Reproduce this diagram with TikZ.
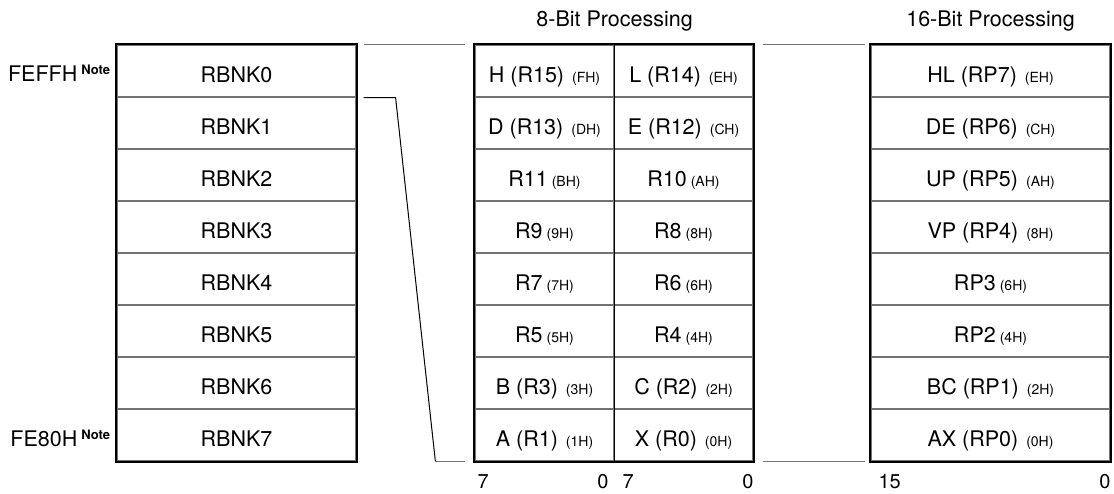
\documentclass[tikz,border=0pt]{standalone}
\usepackage{fontspec}
\setmainfont{TeX Gyre Heros}
\newcommand{\ad}[2][4pt]{\hspace{#1}{\fontsize{14}{16}\selectfont #2}}
\tikzset{
  cell/.style={draw=black!55,line width=1.2pt,inner sep=0pt,minimum height=52pt,
    text height=23pt,text depth=0.5pt,font=\fontsize{21.5}{25}\selectfont},
  wide/.style={cell,minimum width=239pt},
  half/.style={cell,minimum width=139pt},
  frame/.style={line width=2pt},
  link/.style={draw=black!55,line width=1.2pt},
  lbl/.style={inner sep=0pt,font=\fontsize{21.5}{25}\selectfont},
  bit/.style={inner sep=0pt,font=\fontsize{20}{24}\selectfont}
}
\begin{document}
\begin{tikzpicture}[x=1pt,y=-1pt]
  \useasboundingbox (0,0) rectangle (1114,494);

  % register banks
  \foreach \i in {0,...,7}
    \node[wide] (bk\i) at (236.5,{71+52*\i}) {RBNK\i};
  \draw[frame] (bk0.north west) rectangle (bk7.south east);

  % 8-bit registers
  \foreach \i/\hi/\lo in {0/{H (R15)\ad[8pt]{(FH)}}/{L (R14)\ad[8pt]{(EH)}},
                          1/{D (R13)\ad[8pt]{(DH)}}/{E (R12)\ad[8pt]{(CH)}},
                          2/{R11\ad{(BH)}}/{R10\ad{(AH)}},
                          3/{R9\ad{(9H)}}/{R8\ad{(8H)}},
                          4/{R7\ad{(7H)}}/{R6\ad{(6H)}},
                          5/{R5\ad{(5H)}}/{R4\ad{(4H)}},
                          6/{B (R3)\ad[8pt]{(3H)}}/{C (R2)\ad[8pt]{(2H)}},
                          7/{A (R1)\ad[8pt]{(1H)}}/{X (R0)\ad[8pt]{(0H)}}} {
    \node[half] (hb\i) at (544.5,{71+52*\i}) {\hi};
    \node[half] (lb\i) at (683.5,{71+52*\i}) {\lo};
  }
  \draw[line width=1pt] (hb0.north east) -- (hb7.south east);
  \draw[frame] (hb0.north west) rectangle (lb7.south east);

  % 16-bit register pairs
  \foreach \i/\pr in {0/{HL (RP7)\ad[8pt]{(EH)}}, 1/{DE (RP6)\ad[8pt]{(CH)}},
                      2/{UP (RP5)\ad[8pt]{(AH)}}, 3/{VP (RP4)\ad[8pt]{(8H)}},
                      4/{RP3\ad{(6H)}}, 5/{RP2\ad{(4H)}},
                      6/{BC (RP1)\ad[8pt]{(2H)}}, 7/{AX (RP0)\ad[8pt]{(0H)}}}
    \node[wide] (rp\i) at (990.5,{71+52*\i}) {\pr};
  \draw[frame] (rp0.north west) rectangle (rp7.south east);

  % headings
  \node[lbl,anchor=base] (head8) at ([yshift=18pt]hb0.north east) {8-Bit Processing};
  \node[lbl,anchor=base] (head16) at ([yshift=18pt]rp0.north) {16-Bit Processing};

  % addresses
  \node[lbl,anchor=base east] (top) at ([xshift=-6pt,yshift=-11pt]bk0.west)
    {FEFFH\hspace{4pt}\raisebox{7pt}{\fontsize{13}{15}\selectfont\bfseries Note}};
  \node[lbl,anchor=base east] (bot) at ([xshift=-6pt,yshift=-11pt]bk7.west)
    {FE80H\hspace{4pt}\raisebox{7pt}{\fontsize{13}{15}\selectfont\bfseries Note}};

  % bit numbers
  \node[bit,anchor=base west] (b7h) at ([xshift=3pt,yshift=-27pt]hb7.south west) {7};
  \node[bit,anchor=base east] (b0h) at ([xshift=-6pt,yshift=-27pt]hb7.south east) {0};
  \node[bit,anchor=base west] (b7l) at ([xshift=9pt,yshift=-27pt]lb7.south west) {7};
  \node[bit,anchor=base east] (b0l) at ([yshift=-27pt]lb7.south east) {0};
  \node[bit,anchor=base west] (b15) at ([xshift=8pt,yshift=-27pt]rp7.south west) {15};
  \node[bit,anchor=base east] (b0p) at ([yshift=-27pt]rp7.south east) {0};

  % connectors
  \coordinate (la) at ([xshift=7pt]bk0.north east);
  \coordinate (lb) at ([xshift=-9pt]hb0.north west);
  \coordinate (sa) at ([xshift=7pt]bk0.south east);
  \coordinate (sb) at ([xshift=39pt]bk0.south east);
  \coordinate (sc) at ([xshift=-39pt]hb7.south west);
  \coordinate (sd) at ([xshift=-9pt]hb7.south west);
  \coordinate (ra) at ([xshift=9pt]lb0.north east);
  \coordinate (rb) at ([xshift=-5pt]rp0.north west);
  \coordinate (rc) at ([xshift=9pt]lb7.south east);
  \coordinate (rd) at ([xshift=-5pt]rp7.south west);
  \draw[link] (la) -- (lb);
  \draw[line width=1pt] (sa) -- (sb) -- (sc);
  \draw[link] (sc) -- (sd);
  \draw[link] (ra) -- (rb);
  \draw[link] (rc) -- (rd);
\end{tikzpicture}
\end{document}
